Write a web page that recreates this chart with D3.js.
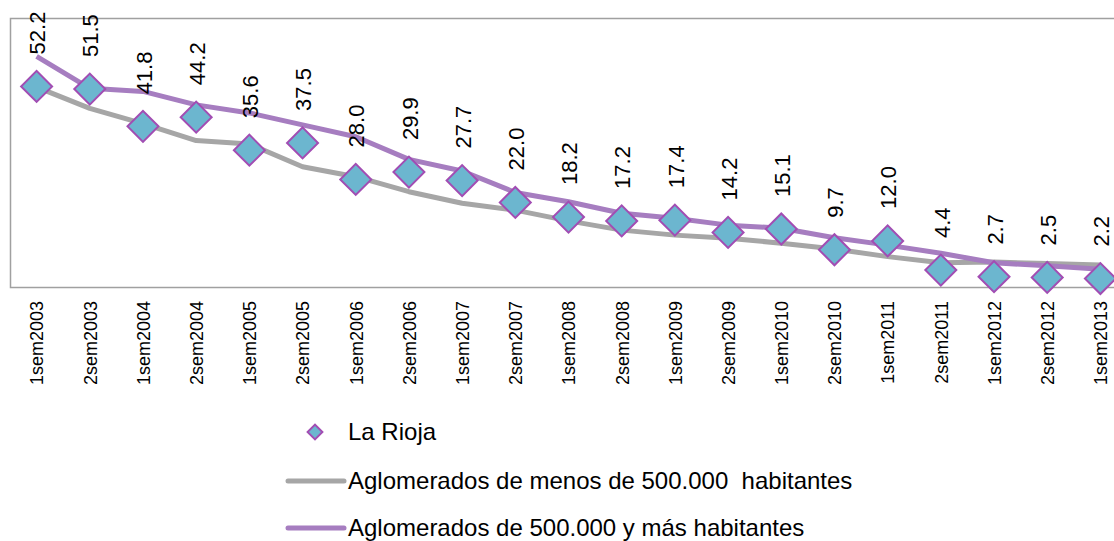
<!DOCTYPE html>
<html>
<head>
<meta charset="utf-8">
<script src="https://cdn.jsdelivr.net/npm/d3@7"></script>
<style>
    body { margin: 0; background: #fff; }
    text { font-family: "Liberation Sans", Arial, sans-serif; fill: #000; white-space: pre; }
</style>
</head>
<body>
<svg width="1114" height="541"></svg>
<script>
var categories = ["1sem2003", "2sem2003", "1sem2004", "2sem2004", "1sem2005", "2sem2005",
    "1sem2006", "2sem2006", "1sem2007", "2sem2007", "1sem2008", "2sem2008", "1sem2009",
    "2sem2009", "1sem2010", "2sem2010", "1sem2011", "2sem2011", "1sem2012", "2sem2012", "1sem2013"];

var laRioja = [52.2, 51.5, 41.8, 44.2, 35.6, 37.5, 28.0, 29.9, 27.7, 22.0, 18.2,
    17.2, 17.4, 14.2, 15.1, 9.7, 12.0, 4.4, 2.7, 2.5, 2.2];

var menos500 = [52.0, 46.5, 42.5, 38.1, 37.2, 31.3, 28.7, 24.8, 21.8, 20.0, 17.2,
    14.8, 13.5, 12.7, 11.4, 9.9, 7.9, 6.3, 6.5, 6.1, 5.7];

var mas500 = [60.0, 51.7, 50.9, 47.4, 45.3, 42.2, 39.1, 33.2, 30.2, 24.6, 22.2,
    19.2, 17.9, 16.1, 15.3, 12.8, 10.9, 8.8, 6.3, 5.5, 4.6];

var seriesNames = ["La Rioja", "Aglomerados de menos de 500.000  habitantes", "Aglomerados de 500.000 y más habitantes"];

var svg = d3.select("svg"),
    margin = {top: 18, left: 10},
    plotWidth = 1117,
    plotHeight = 269;

var grayColor = "#a6a6a6",
    purpleColor = "#a67dc0",
    diamondFill = "#6cb6cf",
    diamondStroke = "#a24db3";

var x = d3.scalePoint()
    .domain(categories)
    .range([margin.left, margin.left + plotWidth])
    .padding(0.5);

var y = d3.scaleLinear()
    .domain([0, 70])
    .range([margin.top + plotHeight, margin.top]);

// plot frame
svg.append("rect")
    .attr("x", margin.left + 0.5)
    .attr("y", margin.top + 0.5)
    .attr("width", plotWidth)
    .attr("height", plotHeight)
    .attr("fill", "none")
    .attr("stroke", "#a0a0a0")
    .attr("stroke-width", 1.5);

var line = d3.line()
    .x(function (d, i) { return x(categories[i]); })
    .y(function (d) { return y(d); });

svg.append("path")
    .datum(menos500)
    .attr("fill", "none")
    .attr("stroke", grayColor)
    .attr("stroke-width", 5)
    .attr("stroke-linejoin", "round")
    .attr("d", line);

svg.append("path")
    .datum(mas500)
    .attr("fill", "none")
    .attr("stroke", purpleColor)
    .attr("stroke-width", 5)
    .attr("stroke-linejoin", "round")
    .attr("d", line);

var diamond = d3.symbol().type(d3.symbolSquare).size(480);

svg.append("g")
    .selectAll("path")
    .data(laRioja)
    .enter().append("path")
    .attr("d", diamond)
    .attr("transform", function (d, i) {
        return "translate(" + x(categories[i]) + "," + y(d) + ") rotate(45)";
    })
    .attr("fill", diamondFill)
    .attr("stroke", diamondStroke)
    .attr("stroke-width", 2);

// data labels
svg.append("g")
    .selectAll("text")
    .data(laRioja)
    .enter().append("text")
    .attr("transform", function (d, i) {
        return "translate(" + (x(categories[i]) + 1) + "," + (y(d) - 32) + ") rotate(-90)";
    })
    .attr("dy", "0.35em")
    .attr("font-size", 22)
    .text(function (d) { return d.toFixed(1); });

// category axis
var xAxis = svg.append("g")
    .attr("transform", "translate(0," + (margin.top + plotHeight) + ")")
    .call(d3.axisBottom(x).tickSize(0));
xAxis.select(".domain").remove();
xAxis.selectAll("text")
    .attr("font-family", null)
    .attr("font-size", 18)
    .attr("text-anchor", "end")
    .attr("transform", "rotate(-90)")
    .attr("x", -14)
    .attr("y", 0)
    .attr("dy", "0.35em");

// legend
var legend = svg.append("g");
legend.append("path")
    .attr("d", d3.symbol().type(d3.symbolSquare).size(110))
    .attr("transform", "translate(315,432) rotate(45)")
    .attr("fill", diamondFill)
    .attr("stroke", diamondStroke)
    .attr("stroke-width", 2);
legend.append("line")
    .attr("x1", 288).attr("x2", 344)
    .attr("y1", 481).attr("y2", 481)
    .attr("stroke", grayColor)
    .attr("stroke-width", 5)
    .attr("stroke-linecap", "round");
legend.append("line")
    .attr("x1", 288).attr("x2", 344)
    .attr("y1", 528).attr("y2", 528)
    .attr("stroke", purpleColor)
    .attr("stroke-width", 5)
    .attr("stroke-linecap", "round");
legend.selectAll("text.leg")
    .data(seriesNames)
    .enter().append("text")
    .attr("class", "leg")
    .attr("x", 348)
    .attr("y", function (d, i) { return [432, 481, 528][i]; })
    .attr("dy", "0.35em")
    .attr("font-size", 24)
    .text(function (d) { return d; });
</script>
</body>
</html>
